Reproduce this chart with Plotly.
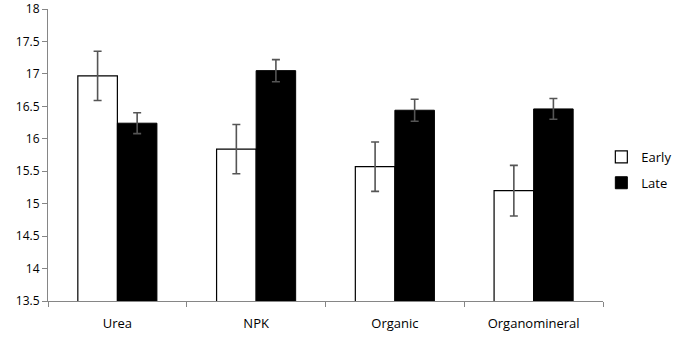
import plotly.graph_objects as go

categories = ["Urea", "NPK", "Organic", "Organomineral"]
early = [16.97, 15.84, 15.57, 15.20]
early_err = [0.38, 0.38, 0.38, 0.39]
late = [16.24, 17.05, 16.44, 16.46]
late_err = [0.16, 0.17, 0.17, 0.16]
y_ticks = [13.5, 14, 14.5, 15, 15.5, 16, 16.5, 17, 17.5, 18]

font = dict(family="Open Sans, Noto Sans, sans-serif", size=12, color="#000000")

fig = go.Figure()
fig.add_trace(go.Bar(
    x=categories, y=early, name="Early", legendgroup="e",
    marker=dict(color="#ffffff", line=dict(color="#000000", width=1.2)),
    error_y=dict(type="data", array=early_err, visible=True, color="#555555", thickness=1.6, width=4),
))
fig.add_trace(go.Bar(
    x=categories, y=late, name="Late", legendgroup="l",
    marker=dict(color="#000000", line=dict(color="#000000", width=1)),
    error_y=dict(type="data", array=late_err, visible=True, color="#555555", thickness=1.6, width=4),
))

fig.update_layout(
    width=675, height=337,
    margin=dict(l=48, r=72, t=9, b=36, autoexpand=False),
    paper_bgcolor="#ffffff", plot_bgcolor="#ffffff",
    barmode="group", bargap=0.43, bargroupgap=0,
    font=font,
    showlegend=True,
    legend=dict(x=0.997, y=0.449, xanchor="left", yanchor="middle",
                font=dict(family="Open Sans, Noto Sans, sans-serif", size=13),
                itemwidth=30, tracegroupgap=6, bgcolor="rgba(0,0,0,0)"),
)
fig.update_xaxes(
    showline=True, linecolor="#868686", linewidth=1,
    ticks="outside", tickson="boundaries", ticklen=5, tickcolor="#868686",
    showgrid=False, zeroline=False,
    tickfont=dict(size=13), ticklabelstandoff=10,
)
fig.update_yaxes(
    range=[13.5, 18], tickvals=y_ticks, ticktext=[f"{v:g}" for v in y_ticks],
    showline=True, linecolor="#868686", linewidth=1,
    ticks="outside", ticklen=5, tickcolor="#868686",
    showgrid=False, zeroline=False,
    tickfont=dict(size=12),
)

fig.write_html("out.html")
